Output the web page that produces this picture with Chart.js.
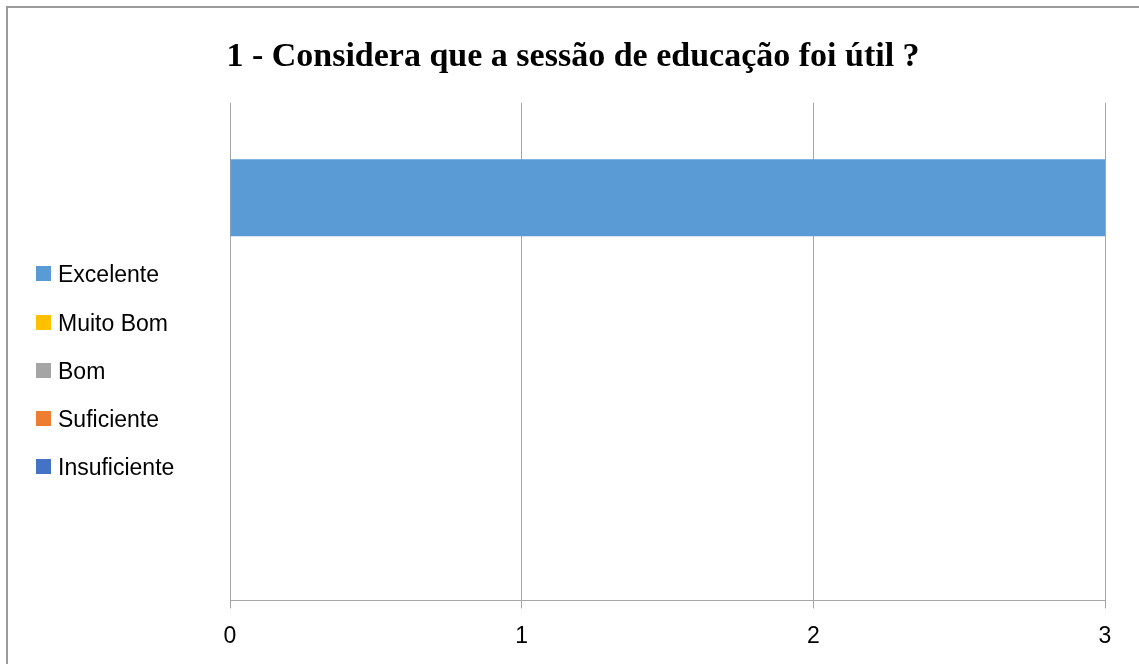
<!DOCTYPE html>
<html lang="pt">
<head>
<meta charset="utf-8">
<title>Considera que a sessão de educação foi útil ?</title>
<script src="https://cdn.jsdelivr.net/npm/chart.js@4/dist/chart.umd.min.js"></script>
<style>
    html, body { margin: 0; padding: 0; background: #fff; overflow: hidden; }
    #wrap { position: relative; width: 1139px; height: 664px; }
    #frame {
        position: absolute; left: 6px; top: 6px; width: 1200px; height: 700px;
        border-left: 2px solid #9a9a9a; border-top: 2px solid #9a9a9a;
    }
    #chart { position: absolute; left: 0; top: 0; }
    #legend { position: absolute; left: 36px; top: 0; font-family: "Liberation Sans", Arial, sans-serif; font-size: 23px; color: #000; }
    .item { position: absolute; left: 0; white-space: nowrap; height: 26px; line-height: 26px; }
    .box { display: inline-block; width: 15px; height: 15px; vertical-align: middle; margin-right: 7px; position: relative; top: -2px; }
</style>
</head>
<body>
<div id="wrap">
    <div id="frame"></div>
    <canvas id="chart" width="1139" height="664"></canvas>
    <div id="legend"></div>
</div>
<script>
// dados
const categories = ['1'];
const seriesNames = ['Excelente', 'Muito Bom', 'Bom', 'Suficiente', 'Insuficiente'];
const seriesValues = [3, 0, 0, 0, 0];
const seriesColors = ['#5B9BD5', '#FFC000', '#A5A5A5', '#ED7D31', '#4472C4'];
const xTicks = [0, 1, 2, 3];

const gridColor = '#a6a6a6';

// uma série por resposta
const datasets = seriesNames.map((name, i) => ({
    label: name,
    data: [seriesValues[i]],
    backgroundColor: seriesColors[i],
    borderWidth: 0,
    categoryPercentage: 0.773,
    barPercentage: 1
}));

const ctx = document.getElementById('chart').getContext('2d');
const chart = new Chart(ctx, {
    type: 'bar',
    data: {
        labels: categories,
        datasets: datasets
    },
    options: {
        indexAxis: 'y',
        responsive: false,
        animation: false,
        devicePixelRatio: 1,
        layout: {
            padding: { left: 41, right: 34, top: 0, bottom: 0 }
        },
        plugins: {
            legend: { display: false },
            tooltip: { enabled: false },
            title: {
                display: true,
                text: '1 - Considera que a sessão de educação foi útil ?',
                color: '#000',
                font: { family: '"Liberation Serif", "Times New Roman", serif', size: 34, weight: 'bold' },
                padding: { top: 37, bottom: 25 }
            }
        },
        scales: {
            x: {
                min: xTicks[0],
                max: xTicks[xTicks.length - 1],
                afterBuildTicks: axis => { axis.ticks = xTicks.map(v => ({ value: v })); },
                grid: { color: gridColor, lineWidth: 1, tickLength: 8, drawTicks: true },
                border: { color: gridColor, width: 1 },
                ticks: {
                    color: '#000',
                    padding: 14,
                    font: { family: '"Liberation Sans", Arial, sans-serif', size: 23 }
                }
            },
            y: {
                // espaço vazio para a legenda
                ticks: { display: false },
                grid: { display: false },
                border: { display: false },
                afterFit: axis => { axis.width = 189; }
            }
        }
    }
});

// legenda à esquerda
const legendItemsY = [274, 323, 371, 419, 467];
const legend = document.getElementById('legend');
legend.innerHTML = seriesNames.map((name, i) => `
    <div class="item" style="top:${legendItemsY[i] - 13}px">
        <span class="box" style="background:${seriesColors[i]}"></span>${name}
    </div>
`).join('');
</script>
</body>
</html>
